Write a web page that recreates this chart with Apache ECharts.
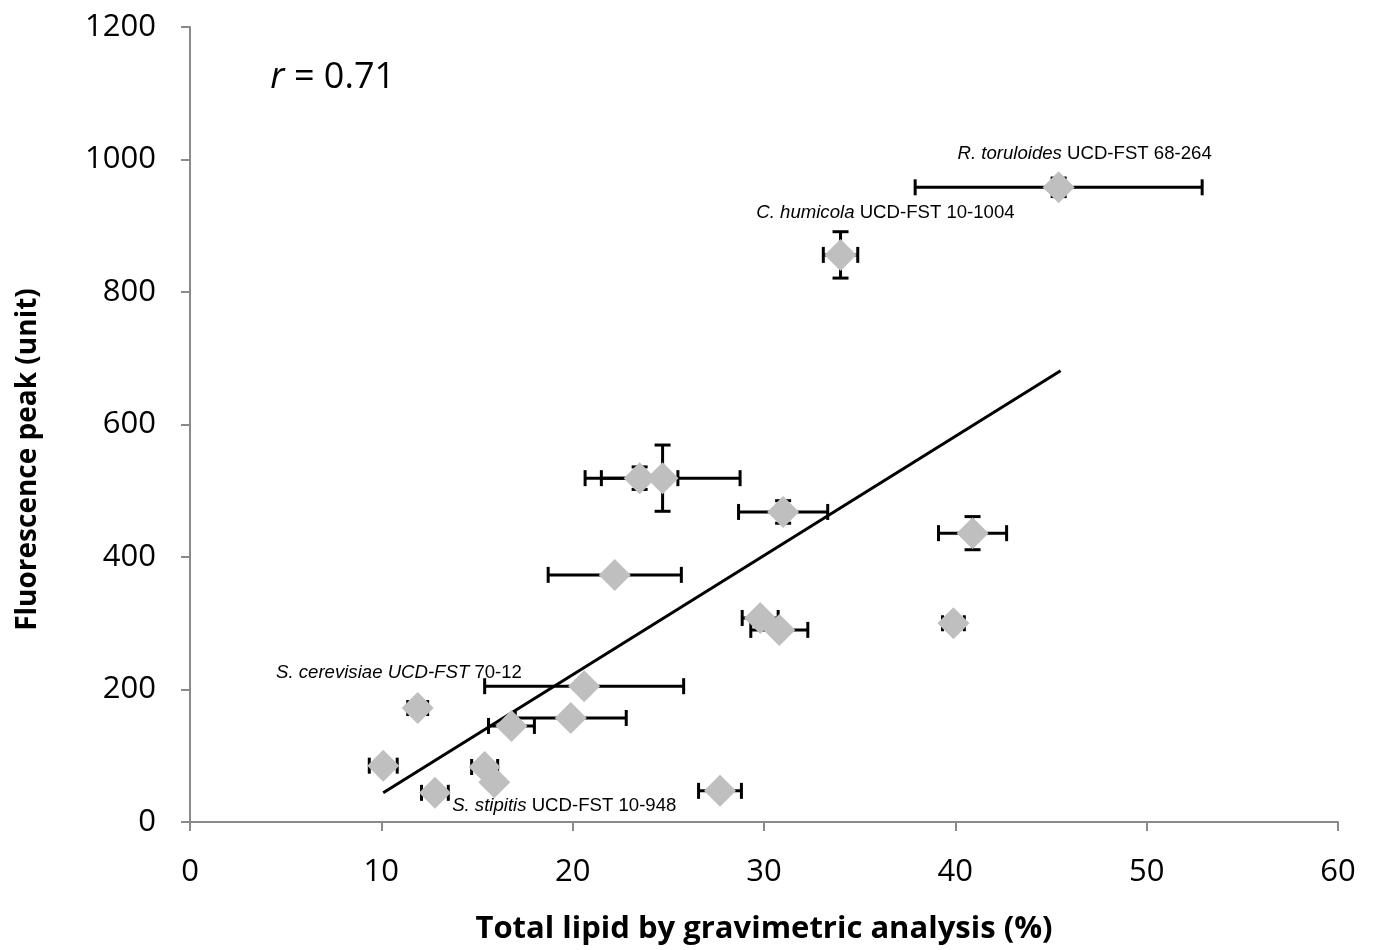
<!DOCTYPE html>
<html>
<head>
<meta charset="utf-8">
<script src="https://cdn.jsdelivr.net/npm/echarts@6/dist/echarts.min.js"></script>
<style>
  html, body { margin: 0; padding: 0; background: #fff; }
  #chart { width: 1376px; height: 950px; }
</style>
</head>
<body>
<div id="chart"></div>
<script>
// strain means and standard deviations
const lipid = [45.4, 34.0, 23.5, 24.7, 31.0, 22.2, 40.9, 29.8, 30.8, 39.9, 20.6, 19.9, 16.8, 11.9, 10.1, 15.4, 15.9, 12.8, 27.7]
const fluo = [958, 856, 519, 519, 468, 373, 436, 308, 290, 300, 205, 157, 145, 172, 85, 83, 60, 44, 47]
const lipidErr = [7.5, 0.9, 2.0, 4.05, 2.33, 3.48, 1.78, 0.94, 1.49, 0.57, 5.2, 2.9, 1.2, 0.52, 0.73, 0.68, 0, 0.7, 1.12]
const fluoErr = [14, 35, 17, 50, 17, 0, 25, 0, 0, 0, 0, 0, 0, 0, 0, 0, 0, 0, 0]

// linear fit line ends
const trendX = [10.1, 45.5]
const trendY = [44, 681]

// annotations
const noteX = [53.4, 43.1, 17.35, 13.7]
const noteY = [1008, 919, 225, 24]
const noteItalic = ['R. toruloides', 'C. humicola', 'S. cerevisiae UCD-FST', 'S. stipitis']
const notePlain = [' UCD-FST 68-264', ' UCD-FST 10-1004', ' 70-12', ' UCD-FST 10-948']
const noteSide = ['left', 'left', 'left', 'right']

const rX = 4.2
const rY = 1123

const xTicks = { min: 0, max: 60, interval: 10 }
const yTicks = { min: 0, max: 1200, interval: 200 }

const chart = echarts.init(document.getElementById('chart'))

const pointData = lipid.map((x, i) => [x, fluo[i], lipidErr[i], fluoErr[i]])

const axisColor = '#8a8a8a'
const font = 'Open Sans'

chart.setOption({
  animation: false,
  grid: { left: 190, right: 38, top: 27, bottom: 128 },
  xAxis: {
    type: 'value',
    min: xTicks.min, max: xTicks.max, interval: xTicks.interval,
    name: 'Total lipid by gravimetric analysis (%)',
    nameLocation: 'middle',
    nameGap: 92,
    nameTextStyle: { fontFamily: font, fontWeight: 'bold', fontSize: 31, color: '#000' },
    axisLine: { lineStyle: { color: axisColor, width: 2 } },
    axisTick: { show: true, length: 9, lineStyle: { color: axisColor, width: 2 } },
    axisLabel: { fontFamily: font, fontSize: 31, color: '#000', margin: 35 },
    splitLine: { show: false },
  },
  yAxis: {
    type: 'value',
    min: yTicks.min, max: yTicks.max, interval: yTicks.interval,
    name: 'Fluorescence peak (unit)',
    nameLocation: 'middle',
    nameGap: 148,
    nameTextStyle: { fontFamily: font, fontWeight: 'bold', fontSize: 28, color: '#000', padding: [0, 70, 0, 0] },
    axisLine: { show: true, lineStyle: { color: axisColor, width: 2 } },
    axisTick: { show: true, length: 9, lineStyle: { color: axisColor, width: 2 } },
    axisLabel: { fontFamily: font, fontSize: 31, color: '#000', margin: 34, formatter: (v) => String(v) },
    splitLine: { show: false },
  },
  series: [
    {
      type: 'line',
      data: trendX.map((x, i) => [x, trendY[i]]),
      symbol: 'none',
      lineStyle: { color: '#000', width: 3 },
      z: 2,
    },
    {
      type: 'custom',
      data: pointData,
      z: 3,
      renderItem: (params, api) => {
        const x = api.value(0)
        const y = api.value(1)
        const ex = api.value(2)
        const ey = api.value(3)
        const cap = 8
        const style = { stroke: '#000', lineWidth: 3 }
        const kids = []
        if (ex > 0) {
          const l = api.coord([x - ex, y])
          const r = api.coord([x + ex, y])
          kids.push({ type: 'line', shape: { x1: l[0], y1: l[1], x2: r[0], y2: r[1] }, style })
          kids.push({ type: 'line', shape: { x1: l[0], y1: l[1] - cap, x2: l[0], y2: l[1] + cap }, style })
          kids.push({ type: 'line', shape: { x1: r[0], y1: r[1] - cap, x2: r[0], y2: r[1] + cap }, style })
        }
        if (ey > 0) {
          const t = api.coord([x, y + ey])
          const b = api.coord([x, y - ey])
          kids.push({ type: 'line', shape: { x1: t[0], y1: t[1], x2: b[0], y2: b[1] }, style })
          kids.push({ type: 'line', shape: { x1: t[0] - cap, y1: t[1], x2: t[0] + cap, y2: t[1] }, style })
          kids.push({ type: 'line', shape: { x1: b[0] - cap, y1: b[1], x2: b[0] + cap, y2: b[1] }, style })
        }
        return { type: 'group', children: kids }
      },
    },
    {
      type: 'scatter',
      data: pointData.map((d) => [d[0], d[1]]),
      symbol: 'diamond',
      symbolSize: 32,
      itemStyle: { color: '#bfbfbf', opacity: 1 },
      z: 4,
    },
    {
      type: 'scatter',
      symbolSize: 0,
      z: 5,
      silent: true,
      itemStyle: { opacity: 1 },
      data: noteX.map((x, i) => ({
        value: [x, noteY[i]],
        label: {
          show: true,
          position: noteSide[i],
          distance: 0,
          formatter: '{i|' + noteItalic[i] + '}{n|' + notePlain[i] + '}',
        },
      })).concat([{
        value: [rX, rY],
        label: {
          show: true,
          position: 'right',
          distance: 0,
          formatter: '{ri|r}{rn| = 0.71}',
        },
      }]),
      label: {
        rich: {
          i: { fontFamily: 'Liberation Sans', fontStyle: 'italic', fontSize: 18.6, color: '#000' },
          n: { fontFamily: 'Liberation Sans', fontSize: 18.6, color: '#000' },
          ri: { fontFamily: font, fontStyle: 'italic', fontSize: 36, color: '#000' },
          rn: { fontFamily: font, fontSize: 36, color: '#000' },
        },
      },
    },
  ],
})
</script>
</body>
</html>
